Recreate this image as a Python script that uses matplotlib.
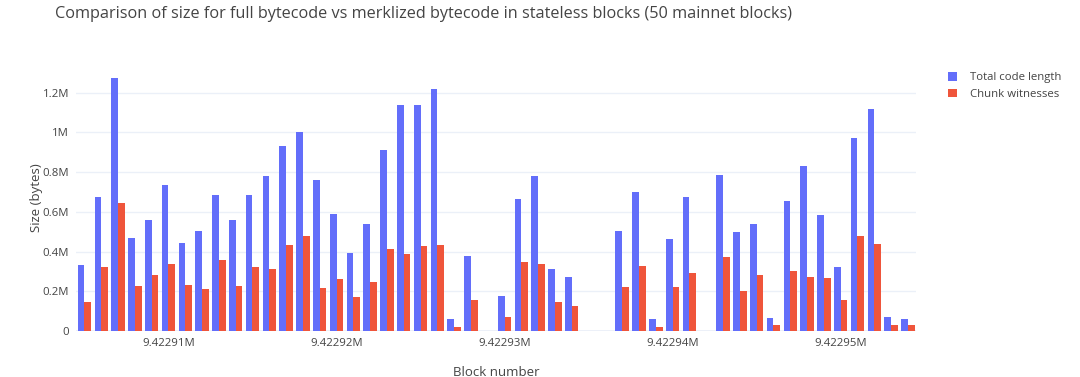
import numpy as np
import matplotlib
matplotlib.use("Agg")
import matplotlib.pyplot as plt
from matplotlib.ticker import FuncFormatter

plt.rcParams['font.family'] = ['Open Sans', 'DejaVu Sans']

# block numbers 9422905 .. 9422954
first_block = 9422905
blocks = np.arange(first_block, first_block + 50)

# sizes in millions of bytes
total_code = [0.334, 0.673, 1.273, 0.467, 0.561, 0.736, 0.445, 0.502, 0.685, 0.558,
              0.685, 0.782, 0.932, 1.003, 0.759, 0.588, 0.391, 0.537, 0.912, 1.140,
              1.140, 1.216, 0.059, 0.378, 0.0, 0.175, 0.663, 0.782, 0.312, 0.274,
              0.0, 0.0, 0.502, 0.702, 0.059, 0.463, 0.677, 0.0, 0.784, 0.497,
              0.541, 0.064, 0.656, 0.833, 0.583, 0.324, 0.974, 1.118, 0.072, 0.061]
chunk_wit = [0.145, 0.324, 0.646, 0.228, 0.284, 0.339, 0.233, 0.210, 0.359, 0.228,
             0.321, 0.311, 0.432, 0.477, 0.218, 0.262, 0.171, 0.245, 0.415, 0.386,
             0.430, 0.432, 0.019, 0.158, 0.0, 0.072, 0.349, 0.339, 0.145, 0.124,
             0.0, 0.0, 0.223, 0.326, 0.022, 0.220, 0.291, 0.0, 0.371, 0.200,
             0.282, 0.032, 0.302, 0.272, 0.267, 0.158, 0.477, 0.438, 0.030, 0.029]

total_code = np.array(total_code) * 1e6
chunk_wit = np.array(chunk_wit) * 1e6

blue = '#636EFA'
red = '#EF553B'
txt = '#444444'

fig = plt.figure(figsize=(10.8, 3.77), dpi=100)
ax = fig.add_axes([0.0704, 0.122, 0.778, 0.706])

w = 0.4
ax.bar(blocks - w / 2, total_code, width=w, color=blue, label='Total code length', zorder=3)
ax.bar(blocks + w / 2, chunk_wit, width=w, color=red, label='Chunk witnesses', zorder=3)

ax.set_xlim(first_block - 0.5, first_block + 49.5)
ax.set_ylim(0, 1.34e6)

ax.set_yticks(np.arange(0, 1.3e6, 2e5))
ax.yaxis.set_major_formatter(FuncFormatter(
    lambda v, p: '0' if v == 0 else ('%gM' % round(v / 1e6, 1))))
ax.set_xticks(np.arange(9422910, 9422951, 10))
ax.xaxis.set_major_formatter(FuncFormatter(lambda v, p: '%.5fM' % (v / 1e6)))

ax.grid(axis='y', color='#EBF0F8', linewidth=1, zorder=0)
ax.axhline(0, color='#EBF0F8', linewidth=2, zorder=1)
for s in ax.spines.values():
    s.set_visible(False)
ax.tick_params(length=0, labelsize=8.2, colors=txt, pad=5)

ax.set_ylabel('Size (bytes)', fontsize=9.5, color=txt)
ax.yaxis.set_label_coords(-0.039, 0.5)
ax.set_xlabel('Block number', fontsize=9.5, color=txt, labelpad=12)

fig.text(0.051, 0.962, 'Comparison of size for full bytecode vs merklized bytecode in stateless blocks (50 mainnet blocks)',
         fontsize=11.7, color=txt, va='center', ha='left')

leg = ax.legend(loc='upper left', bbox_to_anchor=(1.032, 0.99), frameon=False,
                fontsize=8.2, handlelength=0.8, handleheight=0.8,
                handletextpad=1.2, labelspacing=0.45, borderaxespad=0)
for t in leg.get_texts():
    t.set_color(txt)

fig.savefig('out.png', dpi=100, facecolor='white')
